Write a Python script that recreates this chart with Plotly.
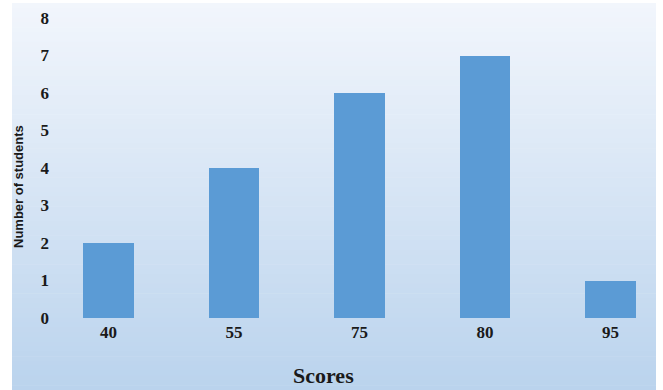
import plotly.graph_objects as go

scores = ["40", "55", "75", "80", "95"]
students = [2, 4, 6, 7, 1]
y_ticks = [0, 1, 2, 3, 4, 5, 6, 7, 8]

W, H = 663, 390
L, R, T, B = 55, 7, 3, 72  # plot area px 55..656, 3..318
plot_w = W - L - R
plot_h = H - T - B


def px_x(p):
    return (p - L) / plot_w


def px_y(p):
    return (H - B - p) / plot_h


fig = go.Figure()
fig.add_trace(go.Bar(
    x=list(range(len(scores))), y=students,
    width=0.406,
    marker=dict(color="#5b9bd5", line=dict(width=0)),
))

# gradient background panel (px 12..656, 3..390) in paper coords
shapes = []
n = 80
top_c = (242, 246, 252)
bot_c = (186, 211, 237)
for i in range(n):
    py0 = 3 + (390 - 3) * i / n
    py1 = 3 + (390 - 3) * (i + 1) / n + 0.6
    t = (i + 0.5) / n
    c = tuple(int(round(top_c[k] + (bot_c[k] - top_c[k]) * t)) for k in range(3))
    shapes.append(dict(
        type="rect", xref="paper", yref="paper",
        x0=px_x(12), x1=px_x(656),
        y0=px_y(py1), y1=px_y(py0),
        fillcolor="rgb(%d,%d,%d)" % c, line=dict(width=0), layer="below",
    ))

annotations = [
    dict(text="Scores", xref="paper", yref="paper", x=px_x(323), y=px_y(375),
         xanchor="center", yanchor="middle", showarrow=False,
         font=dict(family="Liberation Serif", size=22, color="#1a1a1a", weight="bold")),
    dict(text="Number of students", xref="paper", yref="paper", x=px_x(19), y=px_y(187),
         xanchor="center", yanchor="middle", showarrow=False, textangle=-90,
         font=dict(family="Liberation Sans", size=13, color="#1a1a1a", weight="bold")),
]

fig.update_layout(
    width=W, height=H,
    margin=dict(l=L, r=R, t=T, b=B, autoexpand=False),
    paper_bgcolor="white", plot_bgcolor="rgba(0,0,0,0)",
    shapes=shapes, annotations=annotations, showlegend=False, bargap=0,
    xaxis=dict(
        range=[(L - 108.5) / 125.5, (W - R - 108.5) / 125.5],
        tickmode="array", tickvals=list(range(len(scores))), ticktext=scores,
        showgrid=False, zeroline=False, showline=False, ticks="",
        tickfont=dict(family="Liberation Serif", size=17, color="#1a1a1a", weight="bold"),
        ticklabelstandoff=2,
        automargin=False, fixedrange=True,
    ),
    yaxis=dict(
        range=[0, 315 / 37.5],
        tickmode="array", tickvals=y_ticks, ticktext=[str(v) for v in y_ticks],
        showgrid=False, zeroline=False, showline=False, ticks="",
        tickfont=dict(family="Liberation Serif", size=17, color="#1a1a1a", weight="bold"),
        ticklabelstandoff=5,
        automargin=False, fixedrange=True,
    ),
)

fig.write_html("out.html")
